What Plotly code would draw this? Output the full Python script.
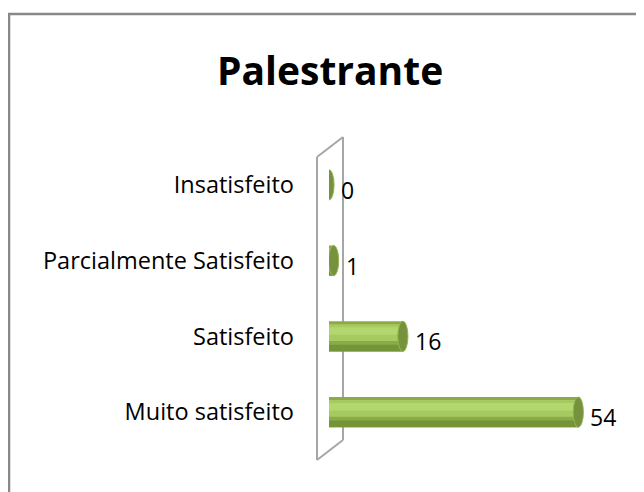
import plotly.graph_objects as go

categories = ["Muito satisfeito", "Satisfeito", "Parcialmente Satisfeito", "Insatisfeito"]
values = [54, 16, 1, 0]
title_text = "Palestrante"

W_TOT, H_TOT = 644, 492
OFF = 8  # page body margin in the browser
L, T = 329 - OFF, 147 - OFF
PW, PH = 277, 303
R = W_TOT - L - PW
B = H_TOT - T - PH


def px(x):
    return (x - OFF - L) / PW


def py(y):
    return (T + PH - (y - OFF)) / PH


FONT = "Open Sans"
fig = go.Figure()

# cylinder body layers
fig.add_trace(go.Bar(y=categories, x=values, orientation="h", width=0.40, offset=-0.20,
                     marker=dict(color="#8AAB48", line=dict(width=0)), hoverinfo="skip"))
fig.add_trace(go.Bar(y=categories, x=values, orientation="h", width=0.09, offset=-0.20,
                     marker=dict(color="#759437", line=dict(width=0)), hoverinfo="skip"))
fig.add_trace(go.Bar(y=categories, x=values, orientation="h", width=0.22, offset=-0.06,
                     marker=dict(color="#A6CA60", line=dict(width=0)), hoverinfo="skip"))
fig.add_trace(go.Bar(y=categories, x=values, orientation="h", width=0.10, offset=0.02,
                     marker=dict(color="#B3D76F", line=dict(width=0)), hoverinfo="skip"))

shapes = []
# 3D wall outline
wall = [(317, 157, 343, 137), (317, 460, 343, 440), (317, 157, 317, 460), (343, 137, 343, 440)]
for x0, y0, x1, y1 in wall:
    shapes.append(dict(type="line", xref="paper", yref="paper", x0=px(x0), y0=py(y0),
                       x1=px(x1), y1=py(y1), line=dict(color="#A6A6A6", width=2), layer="below"))
# outer chart border
shapes.append(dict(type="rect", xref="paper", yref="paper", x0=px(9), y0=py(14), x1=px(700),
                   y1=py(540), line=dict(color="#888888", width=2.5), fillcolor="rgba(0,0,0,0)",
                   layer="below"))
# end caps
for i, v in enumerate(values):
    shapes.append(dict(type="circle", xref="x", yref="y", x0=v - 1.1, x1=v + 1.1,
                       y0=i - 0.20, y1=i + 0.20, fillcolor="#76923C",
                       line=dict(color="#95B553", width=1), layer="above"))

annotations = []
for i, (c, v) in enumerate(zip(categories, values)):
    annotations.append(dict(x=v, y=c, xref="x", yref="y", text=str(v), showarrow=False,
                            xanchor="left", yanchor="middle", xshift=10, yshift=-5,
                            font=dict(family=FONT, size=23, color="#000000")))
annotations.append(dict(x=px(330), y=py(70), xref="paper", yref="paper", text="<b>" + title_text + "</b>",
                        showarrow=False, xanchor="center", yanchor="middle",
                        font=dict(family=FONT, size=39, color="#000000")))

fig.update_layout(
    width=W_TOT, height=H_TOT,
    margin=dict(l=L, r=R, t=T, b=B),
    paper_bgcolor="white", plot_bgcolor="rgba(0,0,0,0)",
    barmode="overlay", showlegend=False,
    shapes=shapes, annotations=annotations,
    xaxis=dict(range=[0, 60], showticklabels=False, showgrid=False, zeroline=False, showline=False),
    yaxis=dict(categoryorder="array", categoryarray=categories, range=[-0.5, 3.5],
               showgrid=False, zeroline=False, showline=False, ticks="",
               ticklabelstandoff=34,
               tickfont=dict(family=FONT, size=23.5, color="#000000")),
)

fig.write_html("out.html")
